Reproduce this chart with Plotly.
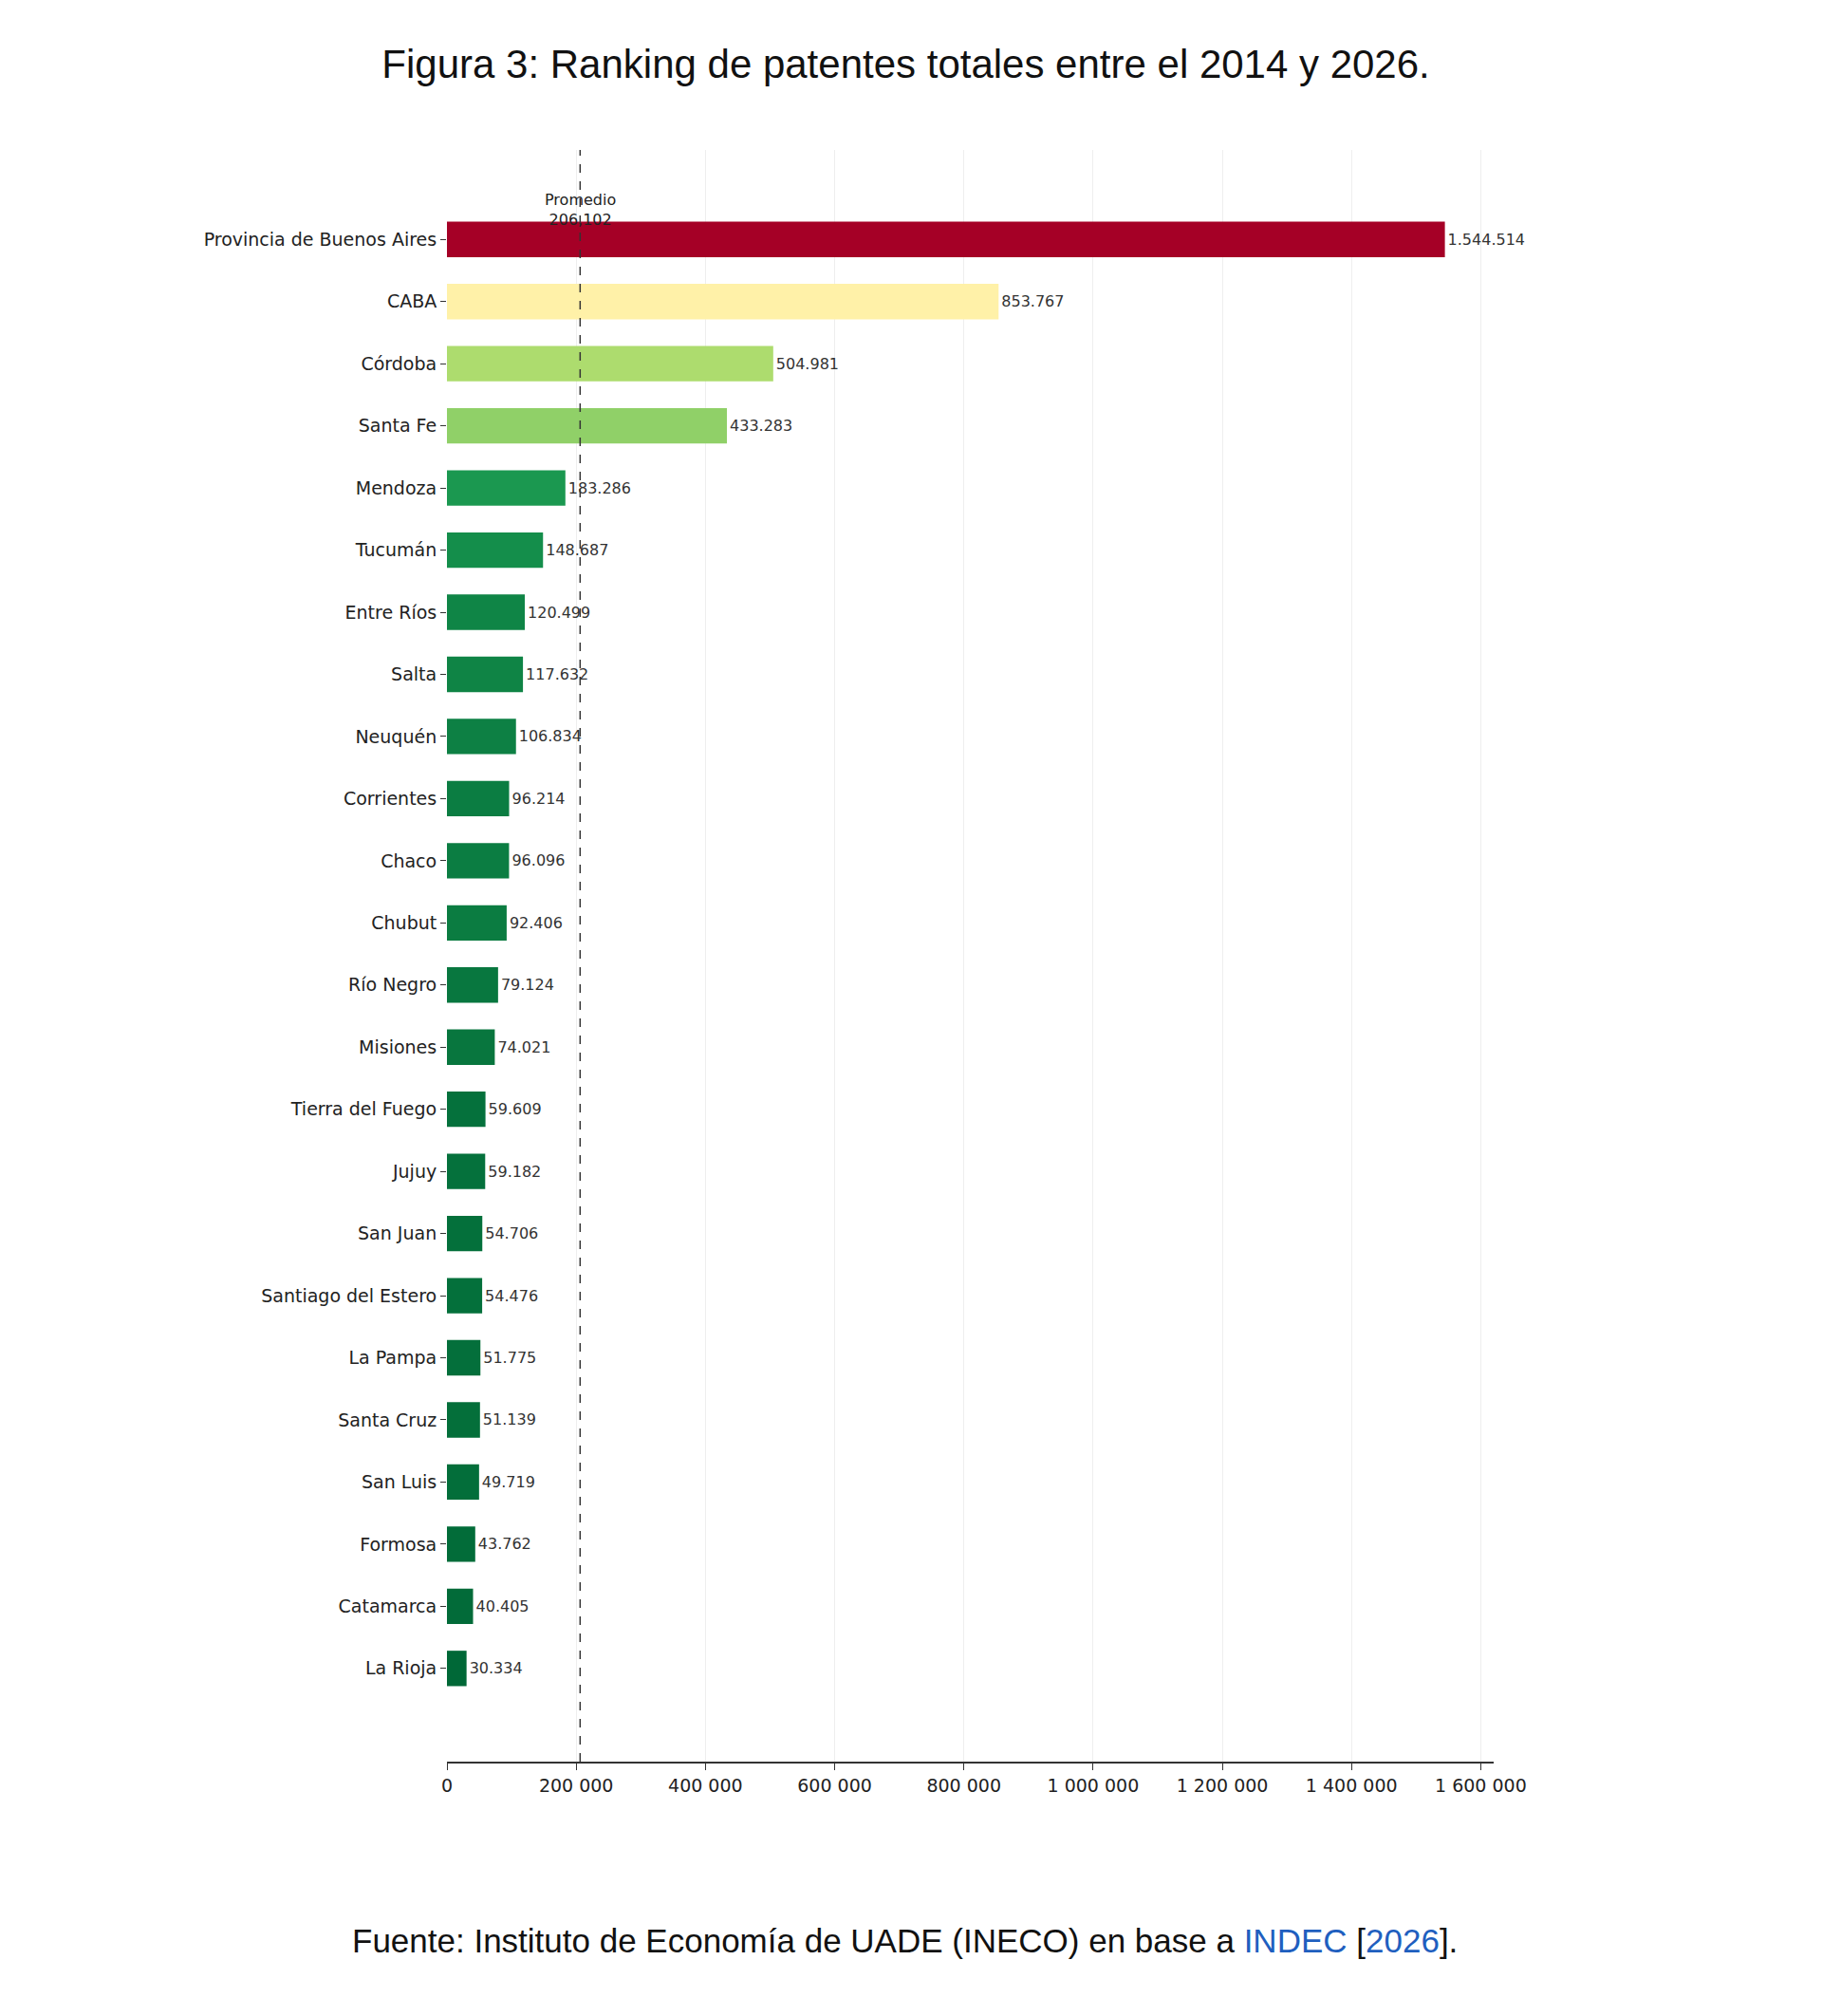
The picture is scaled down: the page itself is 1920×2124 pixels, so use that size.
import plotly.graph_objects as go
from plotly.colors import sample_colorscale

provincias = ["Provincia de Buenos Aires", "CABA", "Córdoba", "Santa Fe", "Mendoza", "Tucumán",
              "Entre Ríos", "Salta", "Neuquén", "Corrientes", "Chaco", "Chubut", "Río Negro",
              "Misiones", "Tierra del Fuego", "Jujuy", "San Juan", "Santiago del Estero",
              "La Pampa", "Santa Cruz", "San Luis", "Formosa", "Catamarca", "La Rioja"]
valores = [1544514, 853767, 504981, 433283, 183286, 148687, 120499, 117632, 106834, 96214,
           96096, 92406, 79124, 74021, 59609, 59182, 54706, 54476, 51775, 51139, 49719,
           43762, 40405, 30334]
promedio = 206102
ticks = [0, 200000, 400000, 600000, 800000, 1000000, 1200000, 1400000, 1600000]
tick_labels = ["0", "200 000", "400 000", "600 000", "800 000", "1 000 000", "1 200 000",
               "1 400 000", "1 600 000"]

vmin, vmax = min(valores), max(valores)
colores = [sample_colorscale("RdYlGn", [0.93 - 0.93 * (v - vmin) / (vmax - vmin) + 0.0])[0]
           for v in valores]
colores = [sample_colorscale("RdYlGn", [min(1, max(0, 1 - (v - vmin) / (vmax - vmin)))])[0]
           for v in valores]
etiquetas = [f"{v:,}".replace(",", ".") for v in valores]

fig = go.Figure(go.Bar(
    x=valores, y=provincias, orientation="h", width=0.57,
    marker=dict(color=colores, line=dict(width=0)),
    text=etiquetas, textposition="outside", cliponaxis=False,
    textfont=dict(family="DejaVu Sans", size=16, color="#333333"),
))

fig.add_shape(type="line", x0=promedio, x1=promedio, xref="x", yref="paper", y0=0, y1=1,
              line=dict(color="#333333", width=1.5, dash="dash"))
fig.add_annotation(x=promedio, xref="x", yref="paper", y=0.976, text="Promedio<br>206,102",
                   showarrow=False, font=dict(family="DejaVu Sans", size=16, color="#222222"))

fig.update_layout(
    width=1920, height=2124, paper_bgcolor="white", plot_bgcolor="white",
    margin=dict(l=463, r=354, t=150, b=276),
    showlegend=False,
    title=dict(text="Figura 3: Ranking de patentes totales entre el 2014 y 2026.",
               x=0.493, xanchor="center", y=0.972, yanchor="middle",
               font=dict(family="Liberation Sans", size=42, color="#111111")),
    xaxis=dict(range=[0, 1620000], tickvals=ticks, ticktext=tick_labels,
               showgrid=True, gridcolor="#eeeeee", gridwidth=1, zeroline=False,
               showline=True, linecolor="#333333", linewidth=2,
               ticks="outside", ticklen=7, tickcolor="#333333",
               tickfont=dict(family="DejaVu Sans", size=19, color="#222222")),
    yaxis=dict(categoryorder="array", categoryarray=provincias,
               range=[24.5, -1.44], showgrid=False, zeroline=False, showline=False,
               ticks="outside", ticklen=6, tickcolor="#333333",
               tickfont=dict(family="DejaVu Sans", size=19, color="#222222")),
)
fig.add_annotation(xref="paper", yref="paper", x=0.437, y=-0.1235, xanchor="center",
                   text="Fuente: Instituto de Economía de UADE (INECO) en base a "
                        "<span style='color:#1f5fbf'>INDEC</span> [<span style='color:#1f5fbf'>2026</span>].",
                   showarrow=False, font=dict(family="Liberation Sans", size=35, color="#111111"))
fig.write_html("out.html")
